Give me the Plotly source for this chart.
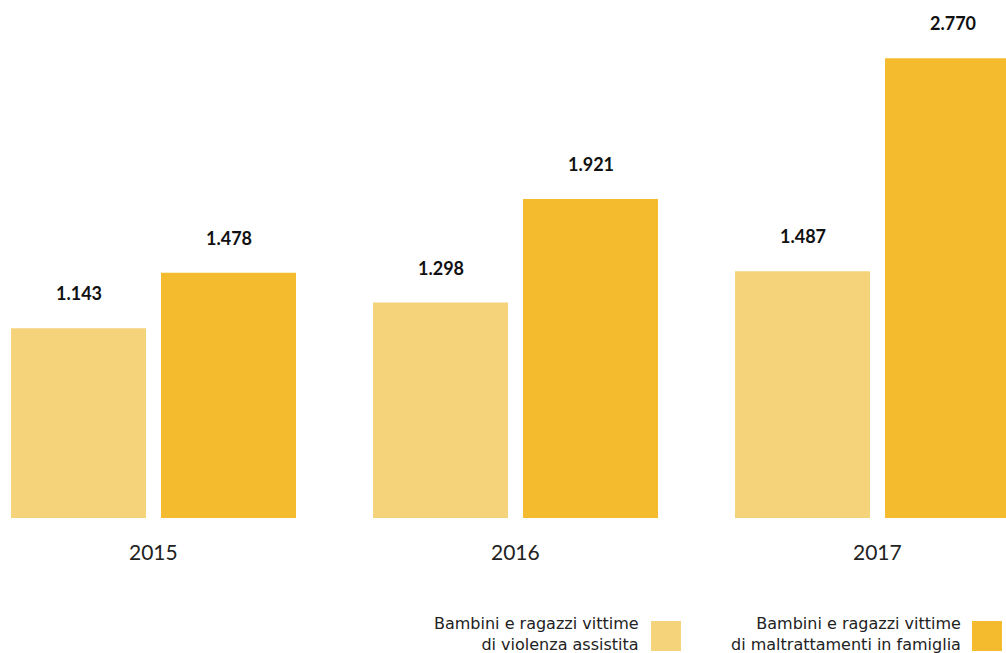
import plotly.graph_objects as go

years = ["2015", "2016", "2017"]
assistita = [1143, 1298, 1487]
maltrattamenti = [1478, 1921, 2770]
labels_assistita = ["1.143", "1.298", "1.487"]
labels_maltrattamenti = ["1.478", "1.921", "2.770"]
legend_names = ["Bambini e ragazzi vittime<br>di violenza assistita",
                "Bambini e ragazzi vittime<br>di maltrattamenti in famiglia"]

C_LIGHT = "#F5D37A"
C_DARK = "#F5BB2E"

W, H = 1006, 653
T, B = 20, 135
PH = H - T - B

def py(p):
    return (H - B - p) / PH

def px(p):
    return p / W

fig = go.Figure()
fig.add_trace(go.Bar(x=years, y=assistita, marker_color=C_LIGHT, marker_line_width=0,
                     name="a", showlegend=False, hoverinfo="skip"))
fig.add_trace(go.Bar(x=years, y=maltrattamenti, marker_color=C_DARK, marker_line_width=0,
                     name="b", showlegend=False, hoverinfo="skip"))

cat_w = 362.0
ann = []
for i, yr in enumerate(years):
    for vals, labs, off in ((assistita, labels_assistita, -75 / cat_w), (maltrattamenti, labels_maltrattamenti, 75 / cat_w)):
        ann.append(dict(x=i + off, y=vals[i], xref="x", yref="y", text="<b>" + labs[i] + "</b>",
                        showarrow=False, yanchor="bottom", yshift=22,
                        font=dict(family="Lato", size=18, color="#111111")))
    ann.append(dict(x=i, y=0, xref="x", yref="paper", text=yr, showarrow=False,
                    yanchor="middle", yshift=-33,
                    font=dict(family="Lato", size=21, color="#222222")))

shapes = []
for name, col, tx, sx0 in ((legend_names[0], C_LIGHT, 641, 651), (legend_names[1], C_DARK, 963, 972)):
    ann.append(dict(x=px(tx), y=py(634), xref="paper", yref="paper", text=name, showarrow=False,
                    xanchor="right", yanchor="middle", align="right",
                    font=dict(family="DejaVu Sans", size=16, color="#222222")))
    shapes.append(dict(type="rect", xref="paper", yref="paper", x0=px(sx0), x1=px(sx0 + 30),
                       y0=py(651), y1=py(621), fillcolor=col, line_width=0))

x0 = -153.5 / cat_w
fig.update_layout(
    width=W, height=H,
    margin=dict(l=0, r=0, t=T, b=B),
    plot_bgcolor="white", paper_bgcolor="white",
    barmode="group", bargap=1 - 285 / cat_w - 15 / cat_w, bargroupgap=0.1,
    xaxis=dict(type="category", range=[x0, x0 + W / cat_w], showticklabels=False,
               showgrid=False, zeroline=False, showline=False, ticks=""),
    yaxis=dict(range=[0, 3000], visible=False, showgrid=False, zeroline=False),
    annotations=ann, shapes=shapes,
)
fig.write_html("out.html")
